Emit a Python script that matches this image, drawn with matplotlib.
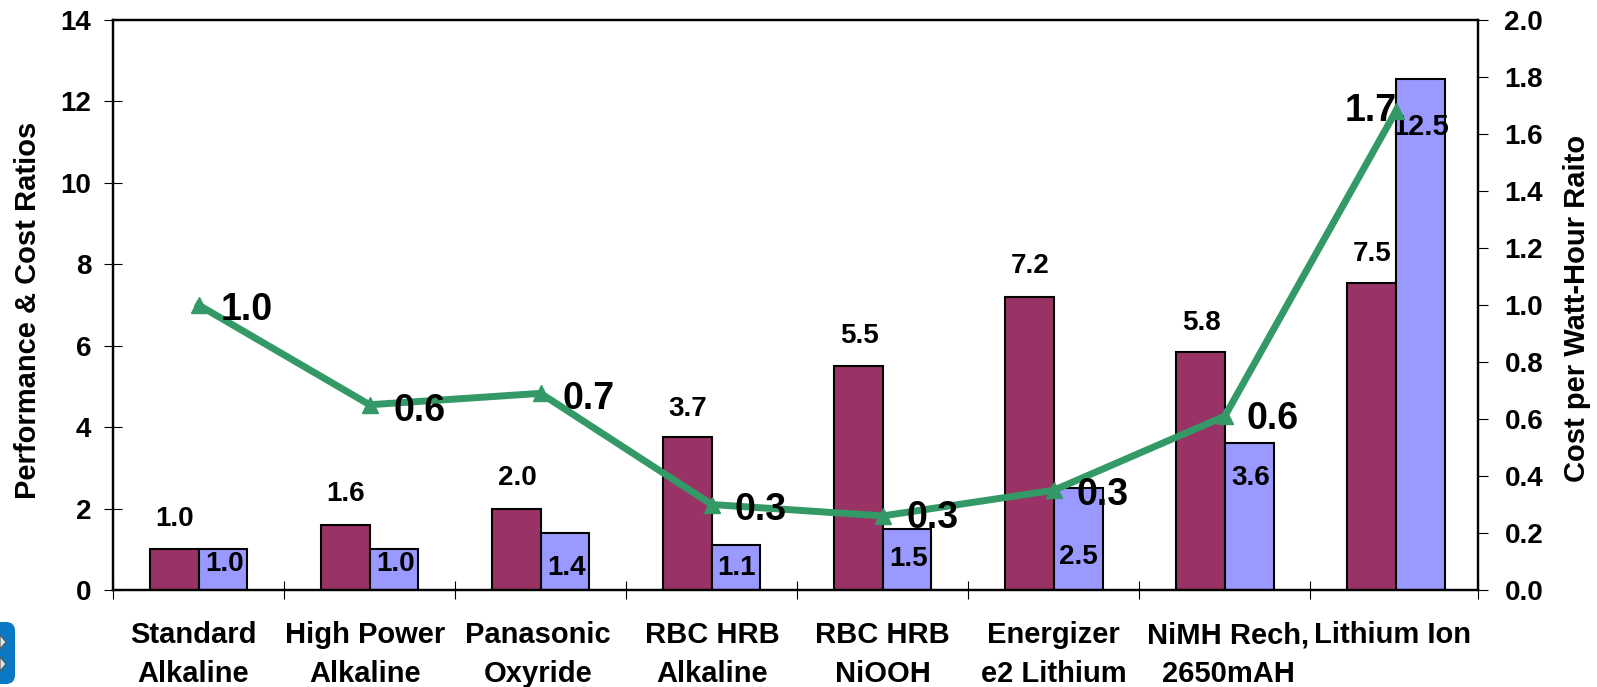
import numpy as np
import matplotlib
matplotlib.use("Agg")
import matplotlib.pyplot as plt
from matplotlib.patches import FancyBboxPatch, Polygon

plt.rcParams["font.family"] = ["Liberation Sans", "DejaVu Sans"]
plt.rcParams["font.weight"] = "bold"

categories = ["Standard\nAlkaline", "High Power\nAlkaline", "Panasonic\nOxyride", "RBC HRB\nAlkaline",
              "RBC HRB\nNiOOH", "Energizer\ne2 Lithium", "NiMH Rech,\n2650mAH", "Lithium Ion\n"]
performance = [1.0, 1.6, 2.0, 3.75, 5.5, 7.2, 5.85, 7.53]
cost = [1.0, 1.0, 1.4, 1.1, 1.5, 2.5, 3.6, 12.55]
cost_per_wh = [1.0, 0.65, 0.69, 0.30, 0.26, 0.35, 0.61, 1.68]
perf_labels = ["1.0", "1.6", "2.0", "3.7", "5.5", "7.2", "5.8", "7.5"]
cost_labels = ["1.0", "1.0", "1.4", "1.1", "1.5", "2.5", "3.6", "12.5"]
line_labels = ["1.0", "0.6", "0.7", "0.3", "0.3", "0.3", "0.6", "1.7"]

W, H = 1597, 687
fig = plt.figure(figsize=(W / 100, H / 100), dpi=100)
ax = fig.add_axes([113 / W, 1 - 590 / H, (1478 - 113) / W, (590 - 20) / H])
x = np.arange(len(categories))
width = 0.285
x_left, x_right = -0.5, 7.48

ax.bar(x - width / 2, performance, width, color="#993366", edgecolor="black", linewidth=1.5)
ax.bar(x + width / 2, cost, width, color="#9999FF", edgecolor="black", linewidth=1.5)
ax.set_xlim(x_left, x_right)
ax.set_ylim(0, 14)
ax.set_yticks(range(0, 15, 2))
ax.set_xticks([x_left] + [i + 0.5 for i in range(7)] + [x_right])
ax.set_xticklabels([])
ax.tick_params(axis="y", labelsize=20, length=13, width=0.8, direction="inout", pad=9)
ax.tick_params(axis="x", length=13, width=0.8, direction="inout")
for s in ax.spines.values():
    s.set_linewidth(1.6)

fig.text(28 / W, 1 - 310 / H, "Performance & Cost Ratios", rotation=90, ha="center", va="center", fontsize=21)
fig.text(1577 / W, 1 - 308 / H, "Cost per Watt-Hour Raito", rotation=90, ha="center", va="center", fontsize=21)

# value labels for the bars
for i, v in enumerate(performance):
    ax.text(x[i] - width / 2 + 0.005, float(perf_labels[i]) + 0.75, perf_labels[i], ha="center", va="center", fontsize=20)
cost_offset = [-0.35, -0.35, -0.85, -0.55, -0.75, -1.7, -0.85, -1.18]
cost_dx = [0.0, 0.0, 0.0, -0.01, 0.0, -0.01, 0.0, -0.01]
for i, v in enumerate(cost):
    ax.text(x[i] + width / 2 + 0.01 + cost_dx[i], v + cost_offset[i], cost_labels[i], ha="center", va="center",
            fontsize=21 if i == 7 else 20)

cat_dx = [-0.03, -0.025, -0.015, 0.005, 0.0, 0.0, 0.02, -0.02]
for i, c in enumerate(categories):
    ax.text(x[i] + cat_dx[i], -0.113, c, transform=ax.get_xaxis_transform(), ha="center", va="center",
            fontsize=21, linespacing=1.47)

ax2 = ax.twinx()
ax2.plot(x, cost_per_wh, color="#339966", linewidth=5, marker="^", markersize=11)
ax2.set_ylim(0, 2)
ax2.set_yticks(np.arange(0, 2.01, 0.2))
ax2.tick_params(axis="y", labelsize=20, length=7, width=0.8, pad=12)
for s in ax2.spines.values():
    s.set_linewidth(1.6)

line_dx = [0.28, 0.29, 0.28, 0.285, 0.29, 0.285, 0.28, -0.15]
line_dy = [-0.018, -0.023, -0.021, -0.021, -0.009, -0.018, -0.011, 0.0]
for i, v in enumerate(cost_per_wh):
    ax2.text(x[i] + line_dx[i], v + line_dy[i], line_labels[i], ha="center", va="center", fontsize=27)

# piece of a blue logo cut off at the lower left corner
logo = FancyBboxPatch((-30, 3), 45, 62, boxstyle="round,pad=0,rounding_size=9", transform=None,
                      facecolor="#0A78C2", edgecolor="none", clip_on=True)
fig.add_artist(logo)
for yc in [45, 23]:
    fig.add_artist(Polygon([(0, yc + 7), (6, yc), (0, yc - 7)], closed=True, transform=None,
                           facecolor="#DDE6EE", edgecolor="#555555", linewidth=0.8))

fig.savefig("out.png", dpi=100)
